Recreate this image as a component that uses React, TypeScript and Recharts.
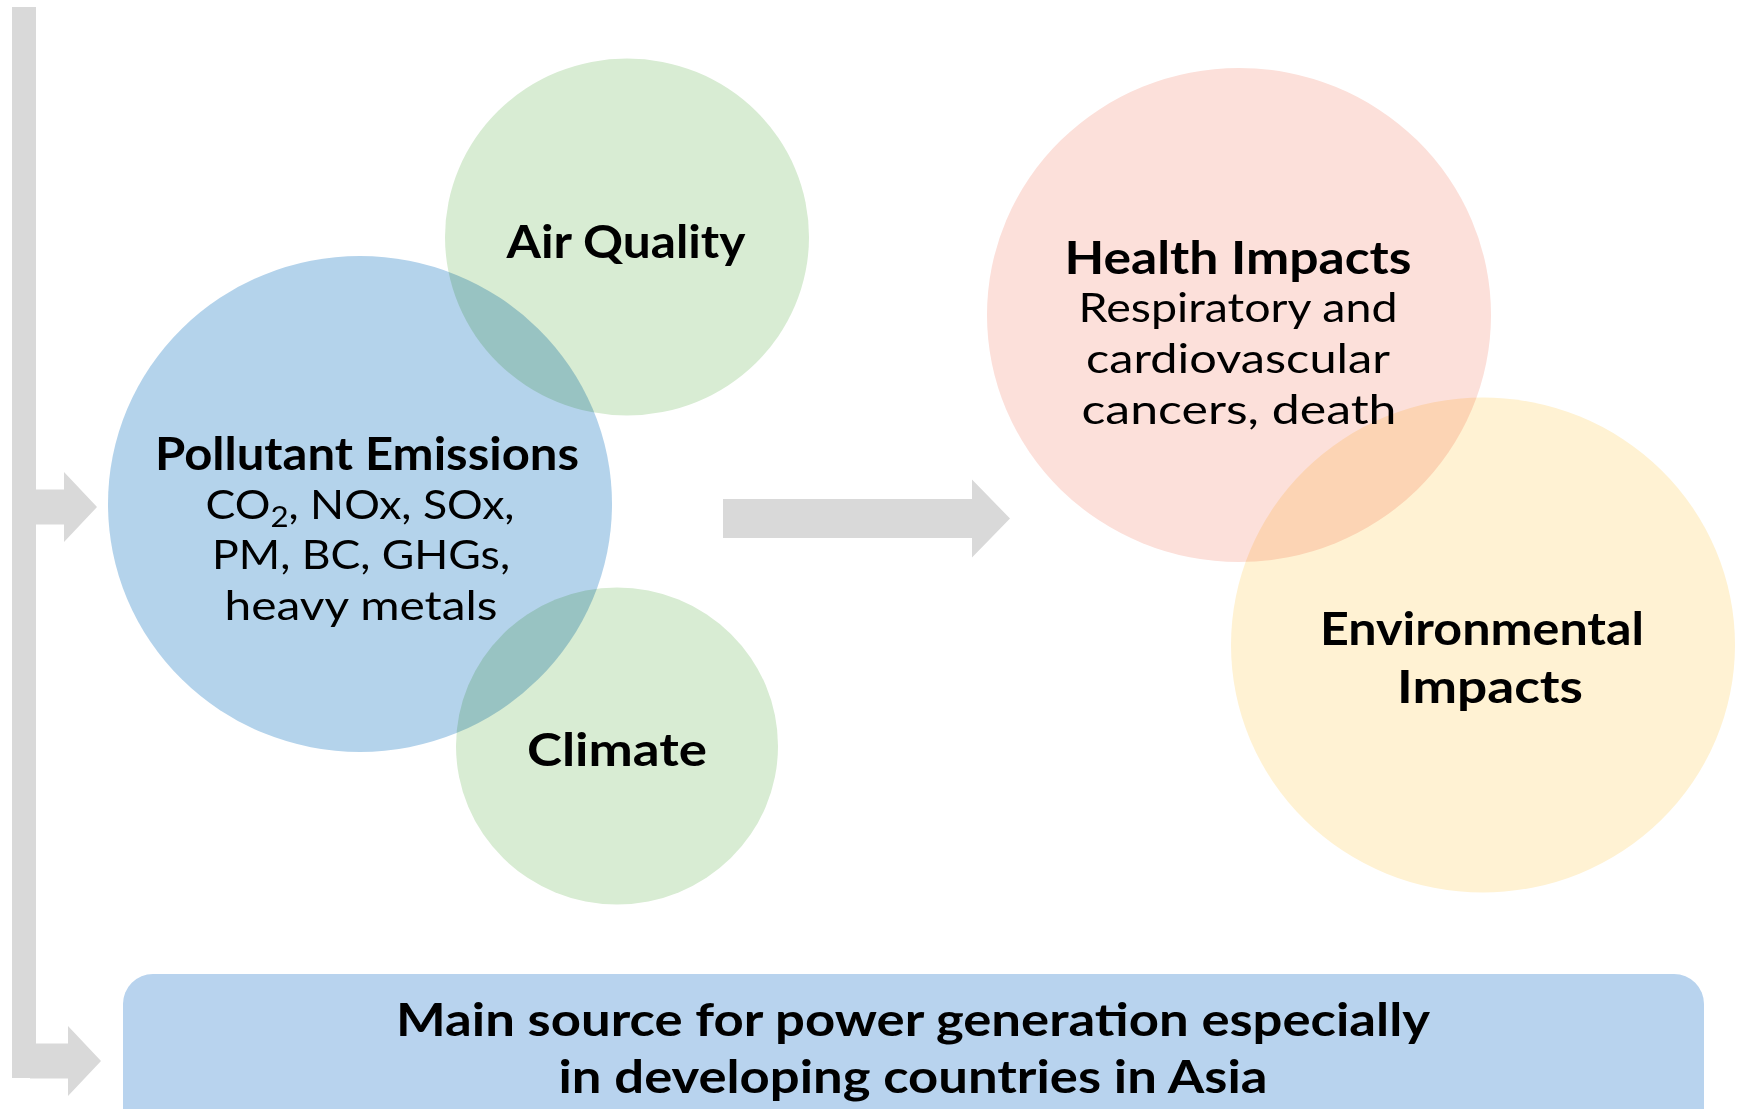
import { ReferenceArea, Scatter, ScatterChart, XAxis, YAxis } from 'recharts'

const W = 1739
const H = 1109

// circles: centre and radii in page units (shapes are very slightly flattened)
const circleNames = ['Pollutant Emissions', 'Air Quality', 'Climate', 'Health Impacts', 'Environmental Impacts']
const circleX = [360, 627, 617, 1239, 1483]
const circleY = [504, 237, 746, 315, 645]
const circleRX = [252, 182, 161, 252, 252]
const circleRY = [248, 178.5, 158.5, 247, 247.5]
const CIRCLE_COLORS = ['#b4d3eb', '#d8ecd3', '#d8ecd3', '#fce0da', '#fff2d3']

// arrows: tip position, tail x
const arrowTipX = [97, 101, 1010]
const arrowTipY = [507, 1061, 518.5]
const arrowTailX = [30, 30, 723]
const arrowShaft = [17.5, 17.5, 19.5]
const arrowHead = [35, 35, 39]
const arrowHeadLen = [33, 33, 38]

// text lines
const lineText = [
  'Air Quality',
  'Pollutant Emissions',
  'CO2, NOx, SOx,',
  'PM, BC, GHGs,',
  'heavy metals',
  'Climate',
  'Health Impacts',
  'Respiratory and',
  'cardiovascular',
  'cancers, death',
  'Environmental',
  'Impacts',
  'Main source for power generation especially',
  'in developing countries in Asia',
]
const lineX = [626, 367, 360, 361, 361, 617, 1238, 1238, 1238, 1239, 1482, 1490, 913, 913]
const lineY = [258, 470, 519, 569, 620, 766, 274, 322, 373, 424, 645, 703, 1036, 1093]
const lineBold = [true, true, false, false, false, true, true, false, false, false, true, true, true, true]
const lineWidth = [239, 424, 309, 298, 273, 180, 347, 319, 304, 315, 324, 186, 1034, 709]

const GRAY = '#d9d9d9'
const FONT = 'Lato, "Open Sans", sans-serif'

const circles = circleNames.map((name, i) => ({
  name,
  x: circleX[i],
  y: circleY[i],
  rx: circleRX[i],
  ry: circleRY[i],
  fill: CIRCLE_COLORS[i],
}))
const arrows = arrowTipX.map((x, i) => ({
  x,
  y: arrowTipY[i],
  tail: arrowTailX[i],
  shaft: arrowShaft[i],
  head: arrowHead[i],
  headLen: arrowHeadLen[i],
}))
const lines = lineText.map((text, i) => ({ text, x: lineX[i], y: lineY[i], bold: lineBold[i], width: lineWidth[i] }))

function CircleShape(props: any) {
  const { cx, cy, payload } = props
  return (
    <ellipse cx={cx} cy={cy} rx={payload.rx} ry={payload.ry} fill={payload.fill} style={{ mixBlendMode: 'multiply' }} />
  )
}

function ArrowShape(props: any) {
  const { cx, cy, payload } = props
  const tail = cx - (payload.x - payload.tail)
  const neck = cx - payload.headLen
  const pts = [
    [tail, cy - payload.shaft],
    [neck, cy - payload.shaft],
    [neck, cy - payload.head],
    [cx, cy],
    [neck, cy + payload.head],
    [neck, cy + payload.shaft],
    [tail, cy + payload.shaft],
  ]
  return <polygon points={pts.map((p) => p.join(',')).join(' ')} fill={GRAY} />
}

function LineShape(props: any) {
  const { cx, cy, payload } = props
  const size = payload.bold ? 46 : 40
  const sub = payload.text.startsWith('CO2')
  return (
    <text
      x={cx}
      y={cy}
      textAnchor="middle"
      fontFamily={FONT}
      fontSize={size}
      fontWeight={payload.bold ? 700 : 400}
      fill="#000"
      textLength={payload.width}
      lengthAdjust="spacingAndGlyphs"
    >
      {sub ? (
        <>
          CO
          <tspan fontSize={28} dy={8}>2</tspan>
          <tspan dy={-8}>, NOx, SOx,</tspan>
        </>
      ) : (
        payload.text
      )}
    </text>
  )
}

export default function App() {
  return (
    <div style={{ position: 'absolute', left: 0, top: 0, background: '#fff' }}>
      <ScatterChart width={W} height={H} margin={{ top: 0, right: 0, bottom: 0, left: 0 }}>
        <XAxis type="number" dataKey="x" domain={[0, W]} hide />
        <YAxis type="number" dataKey="y" domain={[0, H]} reversed hide />
        <ReferenceArea x1={12} x2={36} y1={7} y2={1078} fill={GRAY} fillOpacity={1} />
        <ReferenceArea
          x1={123}
          x2={1704}
          y1={974}
          y2={H}
          fill="#b8d3ee"
          fillOpacity={1}
          radius={[30, 30, 0, 0]}
        />
        <Scatter data={arrows} shape={ArrowShape} isAnimationActive={false} />
        <Scatter data={circles} shape={CircleShape} isAnimationActive={false} />
        <Scatter data={lines} shape={LineShape} isAnimationActive={false} />
      </ScatterChart>
    </div>
  )
}
